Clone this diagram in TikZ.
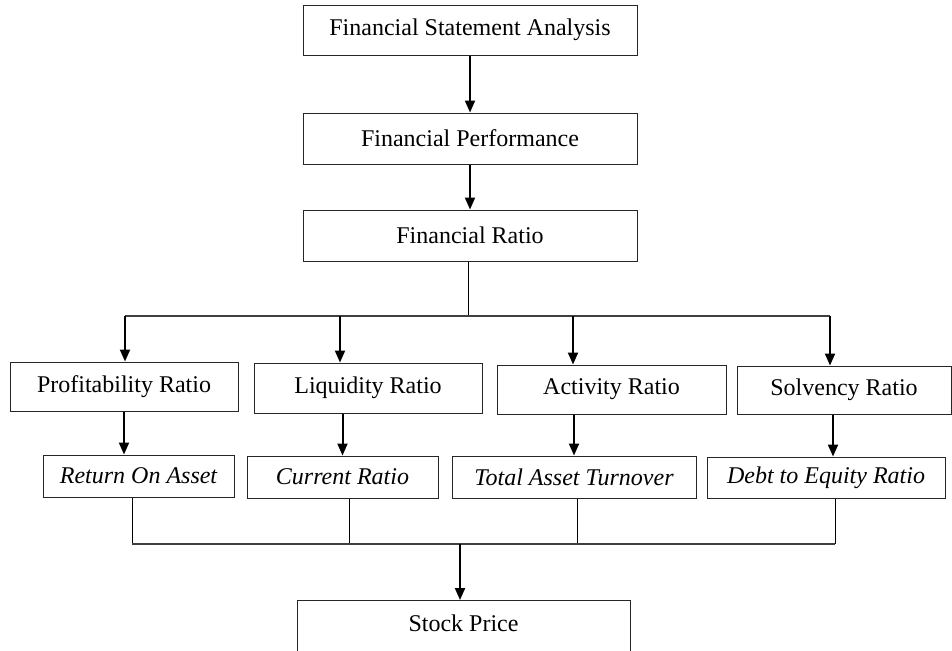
\documentclass[tikz,border=0pt]{standalone}
\usepackage{fontspec}
\setmainfont{Liberation Serif}
\usepackage{tikz}
\usetikzlibrary{arrows.meta, positioning}

\begin{document}
\begin{tikzpicture}[
  x=0.5pt, y=-0.5pt,
  box/.style={draw=black!85, line width=0.5pt, inner sep=0pt, align=center, font={\fontsize{12}{14}\selectfont}},
  itbox/.style={box, font={\fontsize{12}{14}\selectfont\itshape}},
  arr/.style={-{Triangle[width=5pt, length=6pt]}, line width=1pt},
  link/.style={line width=0.5pt}
]
\useasboundingbox (0,0) rectangle (952,650);

\node[box, minimum width=167pt, minimum height=25pt] (analysis) at (470,30) {Financial Statement Analysis};
\node[box, minimum width=167pt, minimum height=25.5pt] (perform) at (470,138.5) {Financial Performance};
\node[box, minimum width=167pt, minimum height=25.5pt] (ratio) at (470,235.5) {Financial Ratio};

\node[box, minimum width=114pt, minimum height=24.5pt] (profit) at (124,386.5) {Profitability Ratio};
\node[box, minimum width=114pt, minimum height=25pt] (liquid) at (368,388) {Liquidity Ratio};
\node[box, minimum width=114.5pt, minimum height=24.5pt] (activ) at (611.5,389.5) {Activity Ratio};
\node[box, minimum width=107pt, minimum height=24pt] (solv) at (844,390) {Solvency Ratio};

\node[itbox, minimum width=95.5pt, minimum height=21pt] (roa) at (138.5,476) {Return On Asset};
\node[itbox, minimum width=95.5pt, minimum height=21pt] (cr) at (342.5,477) {Current Ratio};
\node[itbox, minimum width=122pt, minimum height=21pt] (tato) at (574,477) {Total Asset Turnover};
\node[itbox, minimum width=119pt, minimum height=20.5pt] (der) at (826,477.5) {Debt to Equity Ratio};

\node[box, minimum width=166.5pt, text height=12.5pt, text depth=14pt, inner ysep=3pt, anchor=north] (price) at (463.5,600) {Stock Price};

% split points
\coordinate (split) at (468,316);
\coordinate (b1) at (125,316);
\coordinate (b2) at (340,316);
\coordinate (b3) at (573,316);
\coordinate (b4) at (830,316);
\coordinate (j1) at (132,544);
\coordinate (j2) at (349,544);
\coordinate (j3) at (577,544);
\coordinate (j4) at (835,544);
\coordinate (join) at (460,544);

\draw[arr] (analysis) -- (perform);
\draw[arr] (perform) -- (ratio);
\draw[link] (ratio.south -| split) -- (split);
\draw[link, draw=black!75, line width=0.7pt] (b1) -- (b4);
\draw[arr] (b1) -- (profit.north -| b1);
\draw[arr] (b2) -- (liquid.north -| b2);
\draw[arr] (b3) -- (activ.north -| b3);
\draw[arr] (b4) -- (solv.north -| b4);

\draw[arr] (profit.south) -- (profit.south |- roa.north);
\draw[arr] (cr.north |- liquid.south) -- (cr.north);
\draw[arr] (tato.north |- activ.south) -- (tato.north);
\draw[arr] ([xshift=3.5pt]der.north |- solv.south) -- ([xshift=3.5pt]der.north);

\draw[link] (roa.south -| j1) -- (j1);
\draw[link] (cr.south -| j2) -- (j2);
\draw[link] (tato.south -| j3) -- (j3);
\draw[link] (der.south -| j4) -- (j4);
\draw[link, draw=black!75, line width=0.7pt] (j1) -- (j4);
\draw[arr] (join) -- (price.north -| join);
\end{tikzpicture}
\end{document}
